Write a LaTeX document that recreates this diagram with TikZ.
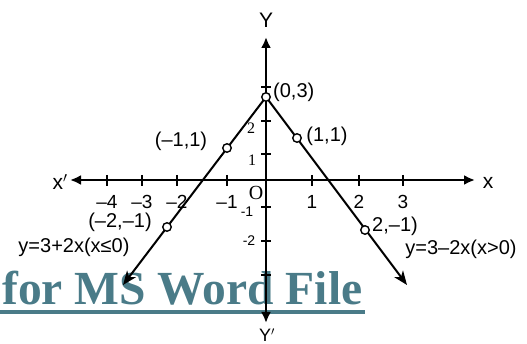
\documentclass[tikz,border=0pt]{standalone}
\usepackage{fontspec}
\setmainfont{Liberation Sans}
\newfontfamily\timesfont{Liberation Serif}
\usepackage{tikz}
\usetikzlibrary{arrows.meta}
\definecolor{wmteal}{HTML}{4A7B88}

\begin{document}
\begin{tikzpicture}[x=1pt,y=-1pt,inner sep=0pt,
  axisline/.style={line width=2.6pt,{Latex[length=11pt,width=10pt]}-{Latex[length=11pt,width=10pt]}},
  fline/.style={line width=2pt,-{Stealth[length=14pt,width=11pt,inset=4pt]}},
  tickmark/.style={line width=1.6pt},
  ptdot/.style={circle,draw,line width=1.4pt,fill=white,minimum size=8.5pt},
  ptlab/.style={font=\fontsize{20}{22}\selectfont},
  ticklab/.style={font=\fontsize{19}{21}\selectfont},
  axlab/.style={font=\fontsize{21}{23}\selectfont}]
\useasboundingbox (0,0) rectangle (527,344);
% watermark
\node[anchor=base west,text=wmteal,font=\timesfont\bfseries\fontsize{47.5}{50}\selectfont](wm) at (2,305){for MS Word File};
\draw[wmteal,line width=4pt]([xshift=-2pt,yshift=-7pt]wm.base west)--([xshift=2pt,yshift=-7pt]wm.base east);
% axes
\coordinate (xl) at (70,180);
\coordinate (xr) at (475,180);
\coordinate (yt) at (266,37);
\coordinate (yb) at (266,323);
\draw[axisline](xl)--(xr);
\draw[axisline](yb)--(yt);
\node[axlab](xlab) at (60,182){x$'$};
\node[axlab](xrab) at (488,183){x};
\node[axlab](ytab) at (266,20){Y};
\node[axlab,font=\fontsize{18}{20}\selectfont](ybab) at (267,335){Y$'$};
\node[font=\timesfont\fontsize{20}{22}\selectfont](orig) at (256,193){O};
% ticks
\foreach \tx/\tl [count=\i] in {107/{--4},142/{--3},177/{--2},227/{--1},312/1,359/2,403/3}{
  \draw[tickmark](\tx,175)--(\tx,186);
  \node[ticklab](xt\i) at (\tx,202){\tl};}
\foreach \ty in {87,121,154,207,241,275}
  \draw[tickmark](261,\ty)--(271,\ty);
\node[font=\timesfont\fontsize{16}{18}\selectfont](yt2) at (251,128){2};
\node[font=\timesfont\fontsize{16}{18}\selectfont](yt1) at (252,160){1};
\node[font=\fontsize{14}{16}\selectfont](ytm1) at (247,212){-1};
\node[font=\fontsize{14}{16}\selectfont](ytm2) at (249,241){-2};
% graph
\coordinate (p03) at (266,97);
\coordinate (pm11) at (227,148);
\coordinate (p11) at (297,138);
\coordinate (pm2m1) at (167,227);
\coordinate (p2m1) at (365,230);
\coordinate (endL) at (123,285);
\coordinate (endR) at (407,285);
\draw[fline](p03)--(endL);
\draw[fline](p03)--(endR);
\foreach \p in {p03,pm11,p11,pm2m1,p2m1}
  \node[ptdot](d\p) at (\p){};
\node[ptlab,anchor=west](l03) at (273,92){(0,3)};
\node[ptlab](l11) at (327,136){(1,1)};
\node[ptlab](lm11) at (181,141){(--1,1)};
\node[ptlab](lm2m1) at (120,222){(--2,--1)};
\node[ptlab,anchor=west](l2m1) at (372,226){2,--1)};
\node[ptlab](fl) at (74,247){y=3+2x(x≤0)};
\node[ptlab](fr) at (461,249){y=3--2x(x>0)};
\end{tikzpicture}
\end{document}
